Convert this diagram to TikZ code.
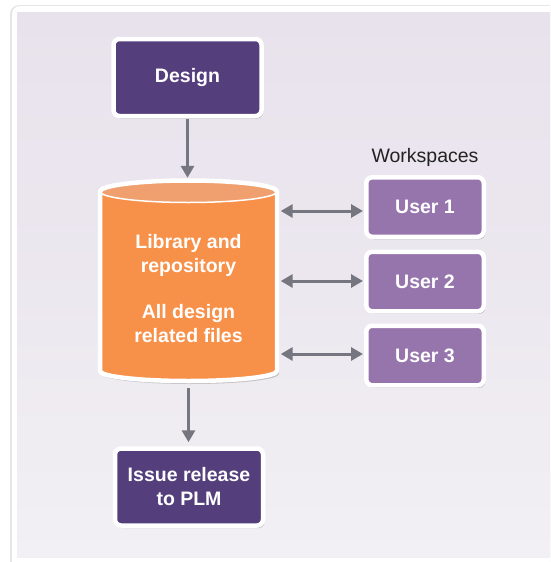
\documentclass[tikz,border=0pt]{standalone}
\usepackage{fontspec}
\setmainfont{Liberation Sans}
\usetikzlibrary{arrows.meta,shadows,calc}
\definecolor{dkpurple}{RGB}{84,62,124}
\definecolor{ltpurple}{RGB}{150,116,172}
\definecolor{cylbody}{RGB}{247,144,73}
\definecolor{cyltop}{RGB}{239,160,110}
\definecolor{arrowgray}{RGB}{118,118,128}
\definecolor{lavtop}{RGB}{232,226,236}
\definecolor{lavbot}{RGB}{242,240,244}
\definecolor{labelgray}{RGB}{34,34,34}
\tikzset{
  x=1pt, y=1pt,
  boxfont/.style={font=\bfseries\fontsize{19.5}{24}\selectfont},
  basebox/.style={draw=white, line width=4.5pt, rounded corners=6pt, text=white, boxfont, align=center,
    drop shadow={shadow xshift=1.5pt, shadow yshift=-2.5pt, opacity=0.22, fill=black}},
  darkbox/.style={basebox, fill=dkpurple, minimum width=148pt, minimum height=77pt},
  userbox/.style={basebox, fill=ltpurple, minimum width=117.5pt, minimum height=59.5pt},
  flow/.style={draw=arrowgray, line width=3pt, -{Triangle[width=13pt,length=12pt]}},
  twoway/.style={draw=arrowgray, line width=3pt, {Triangle[width=13pt,length=12pt]}-{Triangle[width=13pt,length=12pt]}},
}
\begin{document}
\begin{tikzpicture}
\useasboundingbox (0,0) rectangle (550,-562);
% background frame
\begin{scope}
\clip (0,0) rectangle (550,-562);
\fill[black, opacity=0.10, rounded corners=9pt] (10,-5) rectangle (600,-600);
\fill[white, rounded corners=8pt] (12,-6) rectangle (600,-600);
\shade[top color=lavtop, bottom color=lavbot, middle color=lavtop!60!lavbot] (17,-12) rectangle (600,-557);
\end{scope}

% nodes
\node[darkbox] (design) at (187.5,-77.5) {Design};
\node[darkbox] (issue) at (189,-487) {Issue release\\to PLM};
\node[userbox] (u1) at (425,-207) {User 1};
\node[userbox] (u2) at (425,-281.5) {User 2};
\node[userbox] (u3) at (425,-355.5) {User 3};
\node[text=labelgray, font=\fontsize{19.5}{24}\selectfont] (ws) at (425,-157) {Workspaces};

% cylinder
\fill[black, opacity=0.18] (102,-194.5) -- (102,-374) arc (180:360:88.5 and 10) -- (279,-194.5) arc (0:180:88.5 and 11) -- cycle;
\fill[cylbody] (100,-191.5) -- (100,-371) arc (180:360:88.5 and 10) -- (277,-191.5) arc (0:180:88.5 and 11) -- cycle;
\fill[cyltop] (188.5,-191.5) ellipse (88.5 and 11);
\draw[white, line width=1.5pt] (100,-191.5) arc (180:360:88.5 and 11);
\draw[white, line width=4.5pt, line join=round] (100,-191.5) -- (100,-371) arc (180:360:88.5 and 10) -- (277,-191.5) arc (0:180:88.5 and 11) -- cycle;
\node[minimum width=182pt, minimum height=205pt, inner sep=0pt] (cyl) at (188.5,-280.5) {};
\node[text=white, boxfont, align=center] (cyltext) at (188.5,-288.5) {Library and\\repository\\[22pt]All design\\related files};

% connectors
\draw[flow] ($(design.south)+(0,-1)$) -- (design.south |- cyl.north);
\draw[flow] ($(cyl.south)+(0,-5)$) -- ($(cyl.south |- issue.north)+(0,4)$);
\draw[twoway] ($(cyl.east |- u1.west)+(1,-4)$) -- ($(u1.west)+(-1,-4)$);
\draw[twoway] ($(cyl.east |- u2.west)+(1,0.5)$) -- ($(u2.west)+(-1,0.5)$);
\draw[twoway] ($(cyl.east |- u3.west)+(1,1.5)$) -- ($(u3.west)+(-1,1.5)$);
\end{tikzpicture}
\end{document}
